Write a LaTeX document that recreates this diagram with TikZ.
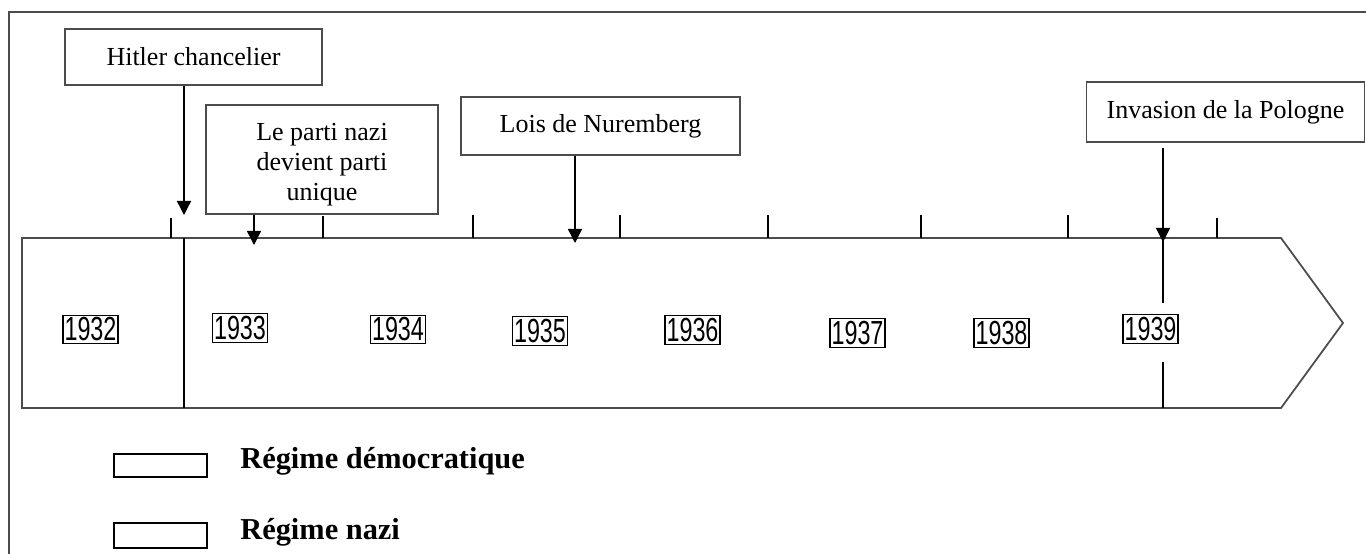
\documentclass[tikz,border=0pt]{standalone}
\usepackage{fontspec}
\setmainfont{Liberation Serif}
\newfontfamily\yearfont[FakeStretch=0.7]{Liberation Sans}
\usetikzlibrary{arrows.meta}
\definecolor{framegray}{gray}{0.3}

\begin{document}
\begin{tikzpicture}[x=0.02cm,y=-0.02cm,
   evt/.style={draw=framegray,line width=0.8pt,align=center,inner sep=0pt,
     font=\fontsize{14.8pt}{17pt}\selectfont},
   yr/.style={draw=black,line width=0.7pt,inner sep=0pt,minimum width=1.1cm,
     minimum height=0.57cm,font=\yearfont\fontsize{19pt}{20pt}\selectfont},
   evarrow/.style={line width=0.8pt,-{Triangle[width=8pt,length=8pt]}},
   tick/.style={line width=0.7pt}]
   \useasboundingbox (0,0) rectangle (1366,554);
   \draw[framegray,line width=0.9pt] (9,554) -- (9,12) -- (1366,12);
   \draw[framegray,line width=1pt] (22,238) -- (1281,238) -- (1343,323) -- (1281,408) -- (22,408) -- cycle;
   \draw[tick] (184,238) -- (184,408);
   \draw[tick] (1163,238) -- (1163,303);
   \draw[tick] (1163,362) -- (1163,408);
   \draw[tick] (171,218) -- (171,238);
   \draw[tick] (323,216) -- (323,238);
   \draw[tick] (473,215) -- (473,238);
   \draw[tick] (620,215) -- (620,238);
   \draw[tick] (768,215) -- (768,238);
   \draw[tick] (921,215) -- (921,238);
   \draw[tick] (1068,215) -- (1068,238);
   \draw[tick] (1217,218) -- (1217,238);
   \node[evt,minimum width=5.14cm,minimum height=1.12cm] (hitler) at (193.5,57) {Hitler chancelier};
   \node[evt,minimum width=4.64cm,minimum height=2.18cm] (parti) at (322,159.5) {\rule{0pt}{0.55cm}Le parti nazi\\devient parti\\unique};
   \node[evt,minimum width=5.58cm,minimum height=1.16cm] (lois) at (600.5,126) {Lois de Nuremberg};
   \node[evt,minimum width=5.56cm,minimum height=1.2cm] (pologne) at (1225.5,112) {Invasion de la Pologne};
   \coordinate (t33) at (184,215);
   \coordinate (t33b) at (254,245);
   \coordinate (t35) at (575,243);
   \coordinate (t39) at (1163,242);
   \draw[evarrow] (hitler.south -| t33) -- (t33);
   \draw[evarrow] (parti.south -| t33b) -- (t33b);
   \draw[evarrow] (lois.south -| t35) -- (t35);
   \draw[evarrow,shorten <=2.8pt] (pologne.south -| t39) -- (t39);
   \node[yr] (y1932) at (90.5,329.5) {1932};
   \node[yr] (y1933) at (240,328) {1933};
   \node[yr] (y1934) at (398,329.5) {1934};
   \node[yr] (y1935) at (540,331) {1935};
   \node[yr] (y1936) at (692.5,330) {1936};
   \node[yr] (y1937) at (857.5,333) {1937};
   \node[yr] (y1938) at (1001.5,333) {1938};
   \node[yr] (y1939) at (1150.5,329) {1939};
   \draw[line width=0.7pt] (114,454) rectangle (207,477);
   \draw[line width=0.7pt] (114,523) rectangle (207,548);
   \node[anchor=base west,inner sep=0pt,font=\bfseries\fontsize{17.3pt}{20pt}\selectfont] (demo) at (240,468) {Régime démocratique};
   \node[anchor=base west,inner sep=0pt,font=\bfseries\fontsize{17.3pt}{20pt}\selectfont] (nazi) at (240,539) {Régime nazi};
\end{tikzpicture}
\end{document}
